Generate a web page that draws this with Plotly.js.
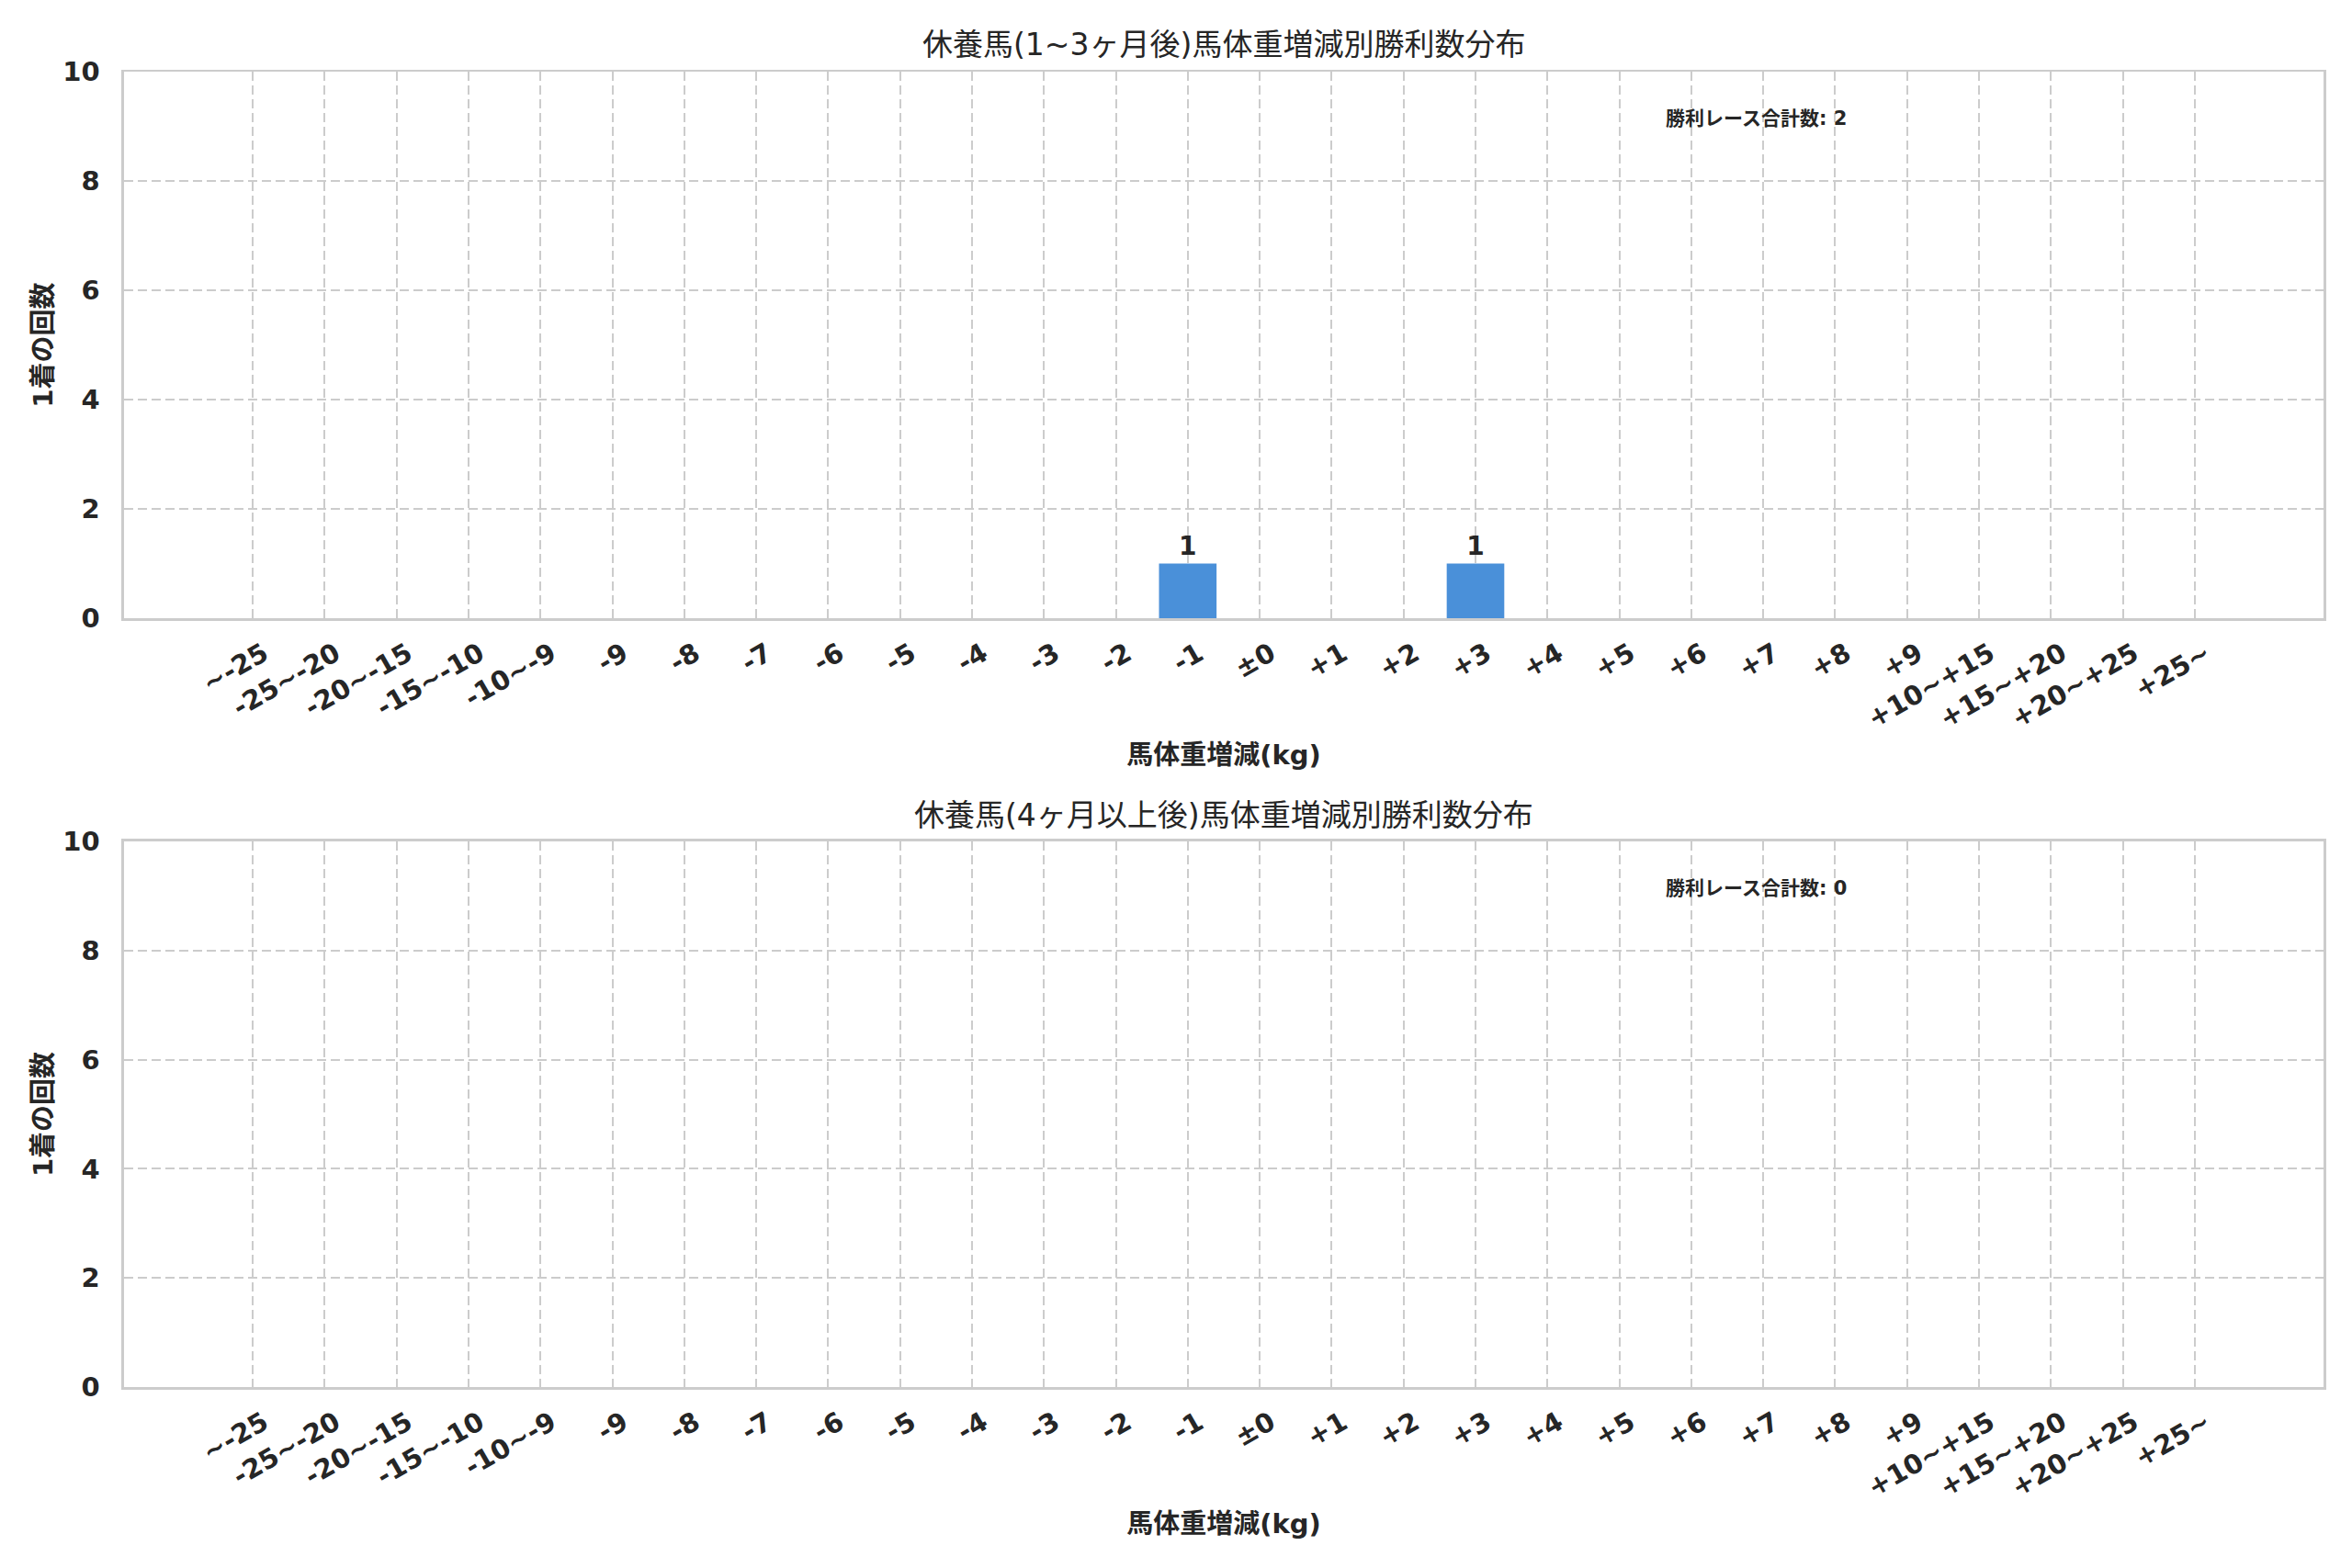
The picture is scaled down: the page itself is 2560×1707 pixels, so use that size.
<!DOCTYPE html>
<html>
<head>
<meta charset="utf-8">
<script src="https://cdn.plot.ly/plotly-3.0.1.min.js"></script>
<style>
  body { margin: 0; background: #fff; }
  #chart { width: 2560px; height: 1707px; }
</style>
</head>
<body>
<div id="chart"></div>
<script>
// Données : classes de variation du poids et nombre de victoires
const categories = ['~-25', '-25~-20', '-20~-15', '-15~-10', '-10~-9',
  '-9', '-8', '-7', '-6', '-5', '-4', '-3', '-2', '-1', '±0',
  '+1', '+2', '+3', '+4', '+5', '+6', '+7', '+8', '+9',
  '+10~+15', '+15~+20', '+20~+25', '+25~'];
const winsShort = [0, 0, 0, 0, 0, 0, 0, 0, 0, 0, 0, 0, 0, 1, 0,
  0, 0, 1, 0, 0, 0, 0, 0, 0, 0, 0, 0, 0];
const winsLong = [0, 0, 0, 0, 0, 0, 0, 0, 0, 0, 0, 0, 0, 0, 0,
  0, 0, 0, 0, 0, 0, 0, 0, 0, 0, 0, 0, 0];
const yTicks = [0, 2, 4, 6, 8, 10];

const titleShort = '休養馬(1~3ヶ月後)馬体重増減別勝利数分布';
const titleLong = '休養馬(4ヶ月以上後)馬体重増減別勝利数分布';
const xTitle = '馬体重増減(kg)';
const yTitle = '1着の回数';
const totalLabel = '勝利レース合計数';

const FONT = '"DejaVu Sans", "Noto Sans CJK JP", sans-serif';
const INK = '#262626';
const GRID = '#cccccc';
const BAR = '#4a90d9';

let sum = arr => arr.reduce((a, b) => a + b, 0);
let labels = arr => arr.map(v => v > 0 ? String(v) : '');

function barTrace(values, xa, ya) {
  return {
    type: 'bar', x: categories, y: values, xaxis: xa, yaxis: ya,
    width: 0.8, marker: { color: BAR, line: { width: 0 } },
    text: labels(values), textposition: 'outside', cliponaxis: false,
    textfont: { family: FONT, size: 28, color: INK, weight: 'bold' },
    hoverinfo: 'skip'
  };
}

function xAxis(anchor) {
  return {
    type: 'category', anchor: anchor, domain: [0.0527, 0.9879],
    range: [-1.79, 28.79],
    showgrid: true, gridcolor: GRID, gridwidth: 2, griddash: '10px,5px',
    showline: true, mirror: true, linecolor: GRID, linewidth: 2.5,
    ticks: '', tickangle: -30, ticklabelshift: 12, ticklabelstandoff: 8,
    tickfont: { family: FONT, size: 29, color: INK, weight: 'bold' },
    title: { text: xTitle, font: { family: FONT, size: 29, color: INK, weight: 'bold' }, standoff: 14 }
  };
}

function yAxis(anchor, domain) {
  return {
    anchor: anchor, domain: domain, range: [0, 10],
    tickvals: yTicks, zeroline: false,
    showgrid: true, gridcolor: GRID, gridwidth: 2, griddash: '10px,5px',
    showline: true, mirror: true, linecolor: GRID, linewidth: 2.5,
    ticks: '', ticklabelstandoff: 18,
    tickfont: { family: FONT, size: 29, color: INK, weight: 'bold' },
    title: { text: yTitle, font: { family: FONT, size: 29, color: INK, weight: 'bold' }, standoff: 2 }
  };
}

let data = [barTrace(winsShort, 'x', 'y'), barTrace(winsLong, 'x2', 'y2')];

let layout = {
  width: 2560, height: 1707,
  margin: { l: 0, r: 0, t: 0, b: 0 },
  paper_bgcolor: '#ffffff', plot_bgcolor: '#ffffff',
  showlegend: false, hovermode: false,
  xaxis: xAxis('y'),
  yaxis: yAxis('x', [0.6057, 0.9543]),
  xaxis2: xAxis('y2'),
  yaxis2: yAxis('x2', [0.1154, 0.4634]),
  annotations: [
    { text: titleShort, xref: 'paper', yref: 'paper', x: 0.5203, y: 0.9713,
      xanchor: 'center', yanchor: 'middle', showarrow: false,
      font: { family: FONT, size: 33, color: INK } },
    { text: titleLong, xref: 'paper', yref: 'paper', x: 0.5203, y: 0.4798,
      xanchor: 'center', yanchor: 'middle', showarrow: false,
      font: { family: FONT, size: 33, color: INK } },
    { text: `${totalLabel}: ${sum(winsShort)}`, xref: 'x domain', yref: 'y domain',
      x: 0.70, y: 0.914, xanchor: 'left', yanchor: 'middle', showarrow: false,
      font: { family: FONT, size: 21, color: INK, weight: 'bold' } },
    { text: `${totalLabel}: ${sum(winsLong)}`, xref: 'x2 domain', yref: 'y2 domain',
      x: 0.70, y: 0.914, xanchor: 'left', yanchor: 'middle', showarrow: false,
      font: { family: FONT, size: 21, color: INK, weight: 'bold' } }
  ]
};

Plotly.newPlot('chart', data, layout, { staticPlot: true, displayModeBar: false });
</script>
</body>
</html>
